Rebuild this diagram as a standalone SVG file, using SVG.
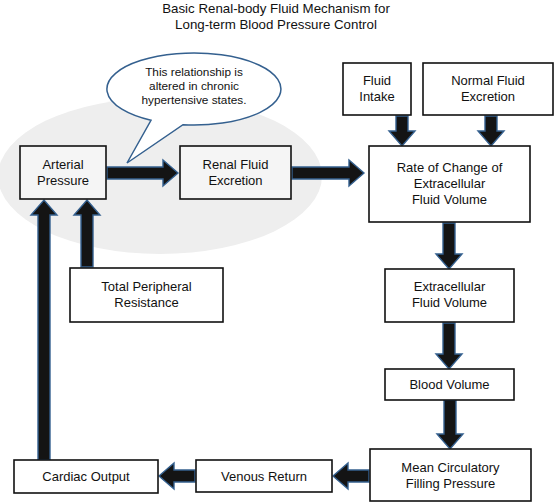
<svg xmlns="http://www.w3.org/2000/svg" width="555" height="502" viewBox="0 0 555 502">
<style>
text{font-family:"Liberation Sans",Arial,sans-serif;font-size:13px;fill:#111;text-anchor:middle}
.t{font-size:13.3px}
.c{font-size:11.8px}
.box{fill:#fff;stroke:#111;stroke-width:1.6}
.arr{fill:#141414;stroke:#34608f;stroke-width:1.4;stroke-linejoin:miter}
</style>
<rect width="555" height="502" fill="#fff"/>
<g id="title">
<text class="t" x="276" y="13">Basic Renal-body Fluid Mechanism for</text>
<text class="t" x="276" y="29">Long-term Blood Pressure Control</text>
</g>
<ellipse id="highlight" cx="160" cy="176" rx="162" ry="78" fill="#eeeeee"/>
<g id="connectors">
<path class="arr" d="M107,167 L163,167 L163,160 L178,173 L163,186 L163,179 L107,179 Z"/>
<path class="arr" d="M292,167 L349,167 L349,160 L364,173 L349,186 L349,179 L292,179 Z"/>
<path class="arr" d="M396,116 L396,131 L389,131 L402,146 L415,131 L408,131 L408,116 Z"/>
<path class="arr" d="M485,116 L485,131 L478,131 L491,146 L504,131 L497,131 L497,116 Z"/>
<path class="arr" d="M443,223 L443,254 L436,254 L449,269 L462,254 L455,254 L455,223 Z"/>
<path class="arr" d="M443,323 L443,354 L436,354 L449,369 L462,354 L455,354 L455,323 Z"/>
<path class="arr" d="M444,400 L444,434 L437,434 L450,449 L463,434 L456,434 L456,400 Z"/>
<path class="arr" d="M369,470 L348,470 L348,463 L333,476 L348,489 L348,482 L369,482 Z"/>
<path class="arr" d="M195,470 L174,470 L174,463 L159,476 L174,489 L174,482 L195,482 Z"/>
<path class="arr" d="M38,460 L38,215 L31,215 L44,200 L57,215 L50,215 L50,460 Z"/>
<path class="arr" d="M81,267 L81,215 L74,215 L87,200 L100,215 L93,215 L93,267 Z"/>
</g>
<g id="callout">
<path d="M151,120.3 A87 36 0 1 1 183,124.7 L127,163 Z" fill="#fff" stroke="#34608f" stroke-width="1.5"/>
<text class="c" x="194" y="76">This relationship is</text>
<text class="c" x="194" y="90">altered in chronic</text>
<text class="c" x="194" y="104">hypertensive states.</text>
</g>
<g id="arterial-pressure">
<rect class="box" x="20" y="146" width="86" height="53" fill-opacity="0.4"/>
<text x="63" y="169">Arterial</text>
<text x="63" y="185">Pressure</text>
</g>
<g id="renal-fluid-excretion">
<rect class="box" x="180" y="146" width="111" height="53" fill-opacity="0.4"/>
<text x="235.5" y="169">Renal Fluid</text>
<text x="235.5" y="185">Excretion</text>
</g>
<g id="fluid-intake">
<rect class="box" x="343" y="63" width="68" height="52"/>
<text x="377" y="85">Fluid</text>
<text x="377" y="101">Intake</text>
</g>
<g id="normal-fluid-excretion">
<rect class="box" x="423" y="63" width="130" height="52"/>
<text x="488" y="85">Normal Fluid</text>
<text x="488" y="101">Excretion</text>
</g>
<g id="rate-of-change">
<rect class="box" x="369" y="146" width="161" height="76"/>
<text x="449.5" y="172">Rate of Change of</text>
<text x="449.5" y="188">Extracellular</text>
<text x="449.5" y="204">Fluid Volume</text>
</g>
<g id="total-peripheral-resistance">
<rect class="box" x="70" y="268" width="153" height="54"/>
<text x="146.5" y="291">Total Peripheral</text>
<text x="146.5" y="307">Resistance</text>
</g>
<g id="extracellular-fluid-volume">
<rect class="box" x="385" y="269" width="129" height="53"/>
<text x="449.5" y="291">Extracellular</text>
<text x="449.5" y="307">Fluid Volume</text>
</g>
<g id="blood-volume">
<rect class="box" x="385" y="369" width="129" height="31"/>
<text x="449.5" y="389">Blood Volume</text>
</g>
<g id="mean-circulatory-filling-pressure">
<rect class="box" x="370" y="449" width="161" height="52"/>
<text x="450.5" y="472">Mean Circulatory</text>
<text x="450.5" y="488">Filling Pressure</text>
</g>
<g id="venous-return">
<rect class="box" x="196" y="460" width="136" height="32"/>
<text x="264" y="481">Venous Return</text>
</g>
<g id="cardiac-output">
<rect class="box" x="14" y="460" width="144" height="33"/>
<text x="86" y="481">Cardiac Output</text>
</g>
</svg>
